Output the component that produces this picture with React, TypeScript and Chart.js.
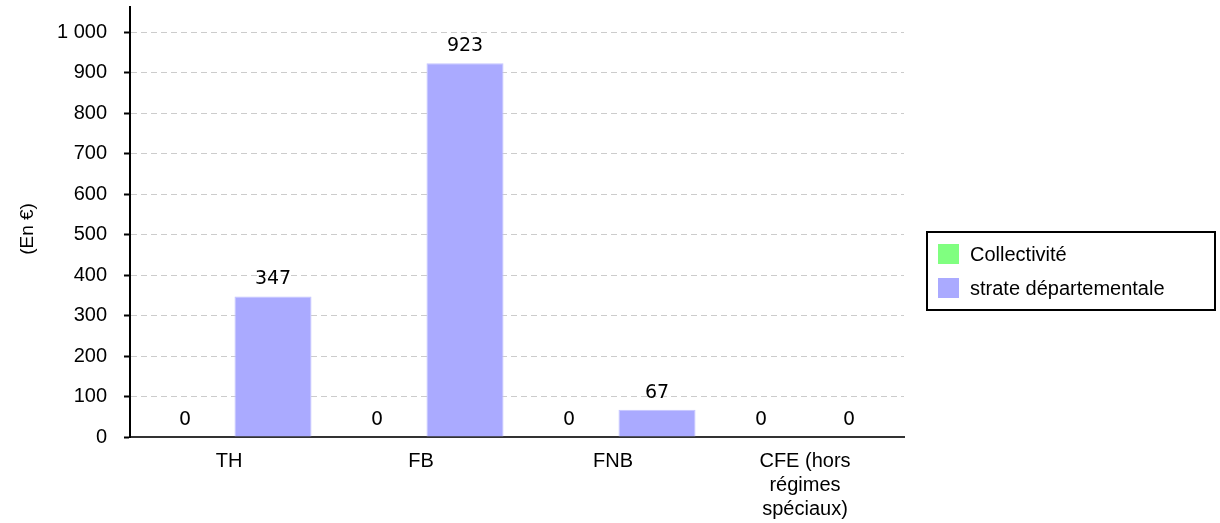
import React, { useEffect, useRef } from "react";
import { Chart, registerables } from "chart.js";

Chart.register(...registerables);

const categories: (string | string[])[] = ["TH", "FB", "FNB", ["CFE (hors", "régimes", "spéciaux)"]];
const collectiviteValues = [0, 0, 0, 0];
const strateValues = [347, 923, 67, 0];
const seriesNames = ["Collectivité", "strate départementale"];
const seriesColors = ["#80ff80", "#aaaaff"];
const yTitle = "(En €)";
const yMax = 1062;
const yStep = 100;

const FONT = "'Liberation Sans', Arial, sans-serif";
const LABEL_FONT = "'DejaVu Sans', sans-serif";

const fmt = (v: number) => String(Math.round(v)).replace(/\B(?=(\d{3})+(?!\d))/g, " ");

const xInsetPlugin = {
  id: "xInset",
  afterLayout(chart: any) {
    const s = chart.scales.x;
    s._startPixel += 3;
    s._endPixel -= 3;
    s._length -= 6;
  },
};

const dataLabelsPlugin = {
  id: "dataLabels",
  afterDatasetsDraw(chart: any) {
    const ctx = chart.ctx;
    ctx.save();
    ctx.font = `19px ${LABEL_FONT}`;
    ctx.fillStyle = "#000";
    ctx.textAlign = "center";
    ctx.textBaseline = "middle";
    chart.data.datasets.forEach((ds: any, di: number) => {
      const meta = chart.getDatasetMeta(di);
      meta.data.forEach((el: any, i: number) => {
        ctx.fillText(fmt(ds.data[i]), el.x, el.y - 17);
      });
    });
    ctx.restore();
  },
};

const legendBoxPlugin = {
  id: "legendBox",
  afterDraw(chart: any) {
    const ctx = chart.ctx;
    const ca = chart.chartArea;
    const left = ca.right + 23;
    const top = 232;
    const w = 288;
    const h = 78;
    ctx.save();
    ctx.fillStyle = "#fff";
    ctx.fillRect(left, top, w, h);
    ctx.strokeStyle = "#000";
    ctx.lineWidth = 2;
    ctx.strokeRect(left, top, w, h);
    ctx.font = `20px ${FONT}`;
    ctx.textAlign = "left";
    ctx.textBaseline = "middle";
    seriesNames.forEach((name, i) => {
      const cy = top + 22 + i * 34;
      ctx.fillStyle = seriesColors[i];
      ctx.fillRect(left + 11, cy - 10, 21, 20);
      ctx.fillStyle = "#000";
      ctx.fillText(name, left + 43, cy + 1);
    });
    ctx.restore();
  },
};

const yTitlePlugin = {
  id: "yTitle",
  afterDraw(chart: any) {
    const ctx = chart.ctx;
    ctx.save();
    ctx.translate(28, 229);
    ctx.rotate(-Math.PI / 2);
    ctx.font = `19px ${FONT}`;
    ctx.fillStyle = "#000";
    ctx.textAlign = "center";
    ctx.textBaseline = "middle";
    ctx.fillText(yTitle, 0, 0);
    ctx.restore();
  },
};

export default function App() {
  const ref = useRef<HTMLCanvasElement>(null);
  useEffect(() => {
    if (!ref.current) return;
    const chart = new Chart(ref.current, {
      type: "bar",
      data: {
        labels: categories as any,
        datasets: [
          {
            label: seriesNames[0],
            data: collectiviteValues,
            backgroundColor: seriesColors[0],
            borderWidth: 0,
          },
          {
            label: seriesNames[1],
            data: strateValues,
            backgroundColor: seriesColors[1],
            borderColor: "#c4c4ff",
            borderWidth: 1,
          },
        ],
      },
      options: {
        animation: false,
        responsive: false,
        devicePixelRatio: 1,
        layout: { padding: { top: 7, right: 316, left: 0, bottom: 0 } },
        plugins: { legend: { display: false }, tooltip: { enabled: false } },
        datasets: { bar: { categoryPercentage: 0.917, barPercentage: 0.875 } },
        scales: {
          x: {
            grid: { display: false, drawTicks: false },
            border: { display: true, color: "#333", width: 2 },
            ticks: {
              color: "#000",
              font: { family: FONT, size: 20, lineHeight: 1.2 },
              padding: 12,
              maxRotation: 0,
              autoSkip: false,
            },
            afterFit: (s: any) => {
              s.height = 86;
              s.paddingLeft = 0;
              s.paddingRight = 0;
            },
          },
          y: {
            min: 0,
            max: yMax,
            ticks: {
              stepSize: yStep,
              color: "#000",
              font: { family: FONT, size: 20 },
              padding: 17,
              callback: (v: any) => fmt(Number(v)),
            },
            afterBuildTicks: (s: any) => {
              s.ticks = s.ticks.filter((t: any) => t.value % yStep === 0);
            },
            grid: {
              color: "#cccccc",
              lineWidth: 1,
              drawTicks: true,
              tickLength: 6,
              tickColor: "#000",
              tickWidth: 2,
              tickBorderDash: [],
            },
            border: { display: true, color: "#000", width: 2, dash: [6, 4] },
            afterFit: (s: any) => {
              s.width = 130;
              s.paddingTop = 0;
              s.paddingBottom = 0;
            },
          },
        },
      },
      plugins: [xInsetPlugin, dataLabelsPlugin, legendBoxPlugin, yTitlePlugin],
    } as any);
    return () => chart.destroy();
  }, []);
  return (
    <div style={{ position: "fixed", left: 0, top: 0, width: 1220, height: 523, background: "#fff" }}>
      <canvas ref={ref} width={1220} height={523} style={{ width: 1220, height: 523 }} />
    </div>
  );
}
